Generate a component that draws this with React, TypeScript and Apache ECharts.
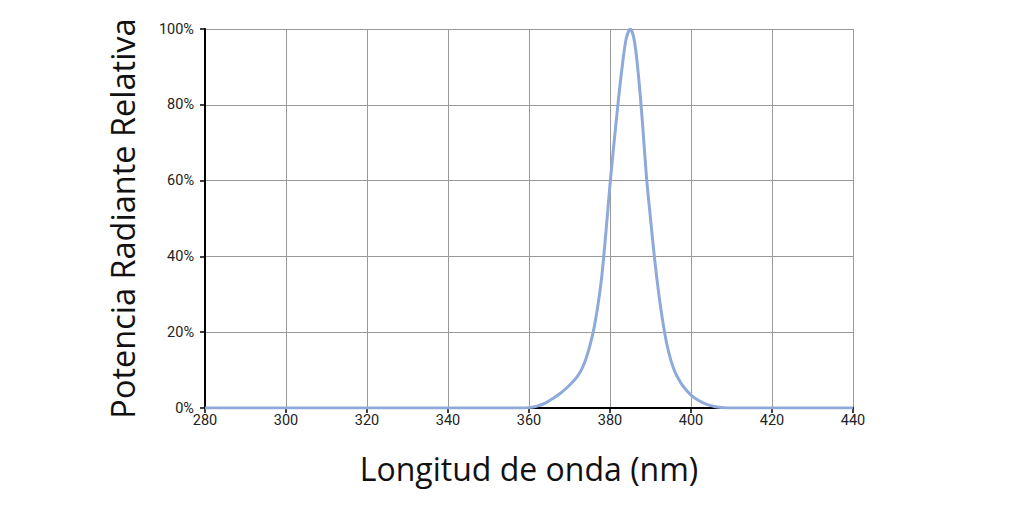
import React, { useEffect, useRef } from "react";
import * as echarts from "echarts";

const wavelengths = [280, 300, 320, 340, 356, 358, 360, 362, 364, 366, 368, 370, 371, 372, 373, 374, 375, 376, 377, 378, 379, 380, 381, 382, 383, 384, 385, 386, 387, 388, 389, 390, 391, 392, 393, 394, 395, 396, 397, 398, 400, 402, 404, 406, 408, 410, 412, 420, 440];
const power = [0, 0, 0, 0, 0, 0, 0.1, 0.5, 1.3, 2.6, 4.1, 6, 7.1, 8.4, 10.2, 12.8, 16.3, 20.8, 27, 35, 46.5, 59, 70, 80.5, 90, 97.5, 100, 97, 88, 75.5, 61, 50, 39.5, 30.5, 23, 17, 12.7, 9.6, 7.5, 5.8, 3.4, 1.9, 0.9, 0.35, 0.08, 0, 0, 0, 0];

const xMin = 280;
const xMax = 440;
const xStep = 20;
const yMax = 100;
const yStep = 20;

export default function App() {
  const ref = useRef<HTMLDivElement>(null);
  useEffect(() => {
    if (!ref.current) return;
    const chart = echarts.init(ref.current, null, { renderer: "svg" });
    const data = wavelengths.map((w, i) => [w, power[i]]);
    chart.setOption({
      animation: false,
      grid: { left: 205, right: 171, top: 29, bottom: 108 },
      xAxis: {
        type: "value",
        min: xMin,
        max: xMax,
        interval: xStep,
        name: "Longitud de onda (nm)",
        nameLocation: "middle",
        nameGap: 44,
        nameTextStyle: { fontFamily: "Open Sans", fontSize: 32, color: "#111" },
        axisLine: { show: true, lineStyle: { color: "#000", width: 2 } },
        axisTick: { show: true, length: 5, lineStyle: { color: "#000", width: 1.5 } },
        axisLabel: { fontFamily: "Roboto", fontSize: 14.5, color: "#222", margin: 5 },
        splitLine: { show: true, lineStyle: { color: "#999", width: 1 } },
      },
      yAxis: {
        type: "value",
        min: 0,
        max: yMax,
        interval: yStep,
        name: "Potencia Radiante Relativa",
        nameLocation: "middle",
        nameGap: 66,
        nameTextStyle: { fontFamily: "Open Sans", fontSize: 32.5, color: "#111" },
        axisLine: { show: true, lineStyle: { color: "#000", width: 2 } },
        axisTick: { show: true, length: 5, lineStyle: { color: "#000", width: 1.5 } },
        axisLabel: { fontFamily: "Roboto", fontSize: 14.5, color: "#222", margin: 11, formatter: "{value}%" },
        splitLine: { show: true, lineStyle: { color: "#999", width: 1 } },
      },
      series: [
        {
          type: "line",
          data,
          smooth: 0.3,
          showSymbol: false,
          lineStyle: { color: "#8eaadb", width: 3 },
        },
      ],
    });
    return () => chart.dispose();
  }, []);
  return <div ref={ref} style={{ width: 1024, height: 516, margin: -8 }} />;
}
